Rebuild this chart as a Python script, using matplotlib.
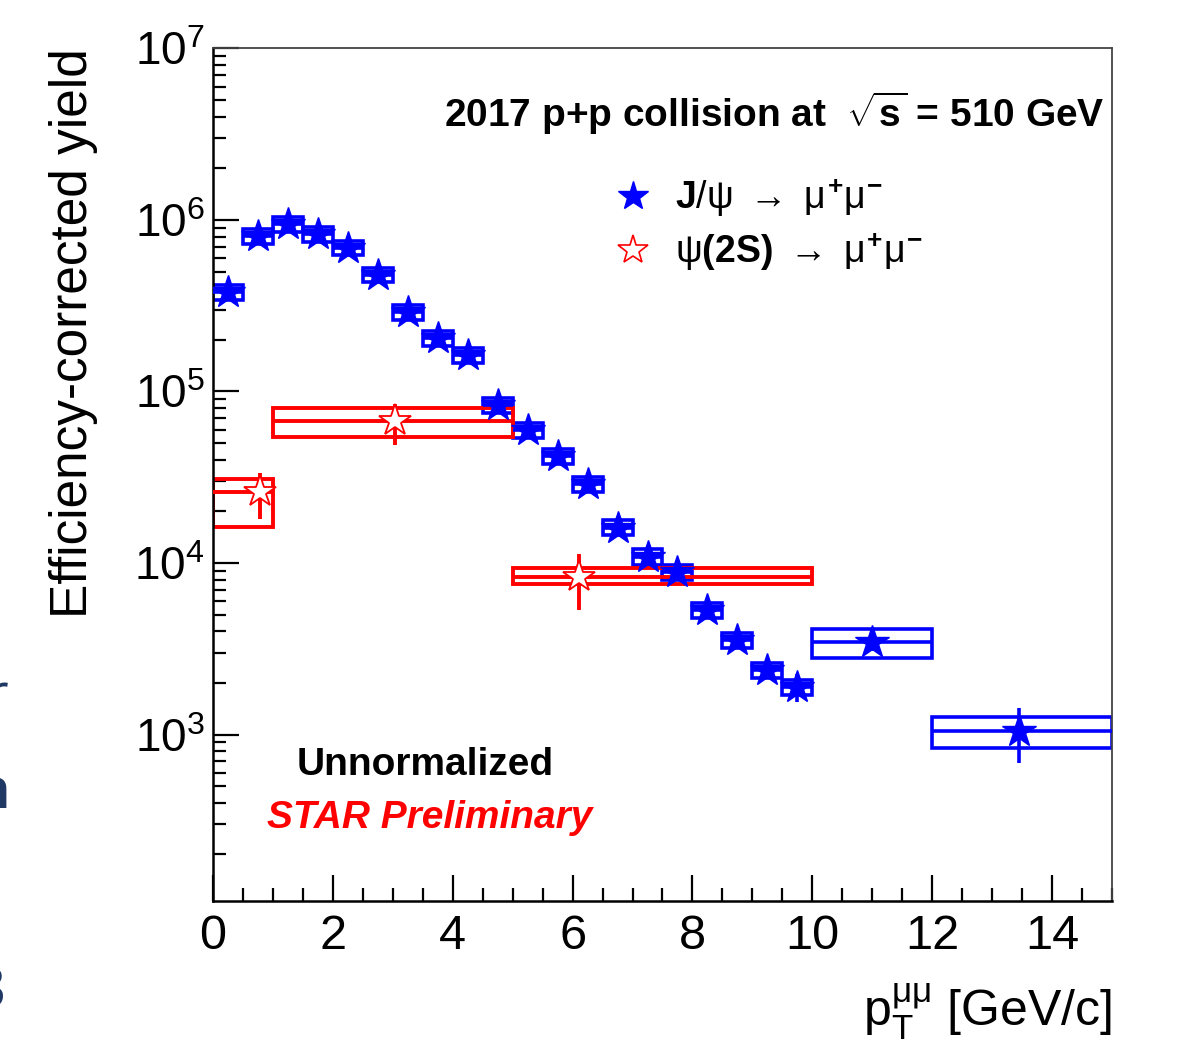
import numpy as np
import matplotlib.pyplot as plt
from matplotlib.patches import Rectangle
from matplotlib.lines import Line2D
from matplotlib.ticker import LogLocator, MultipleLocator, NullFormatter

plt.rcParams['font.family'] = ['Liberation Sans', 'DejaVu Sans']
plt.rcParams['mathtext.fontset'] = 'custom'
plt.rcParams['mathtext.rm'] = 'Liberation Sans'
plt.rcParams['mathtext.it'] = 'Liberation Sans'
plt.rcParams['mathtext.bf'] = 'Liberation Sans:bold'

# J/psi -> mu mu : bins, points, stat and sys errors
jpsi_lo = [0, 0.5, 1, 1.5, 2, 2.5, 3, 3.5, 4, 4.5, 5, 5.5, 6, 6.5, 7, 7.5, 8, 8.5, 9, 9.5, 10, 12]
jpsi_hi = [0.5, 1, 1.5, 2, 2.5, 3, 3.5, 4, 4.5, 5, 5.5, 6, 6.5, 7, 7.5, 8, 8.5, 9, 9.5, 10, 12, 15]
jpsi_x = [0.25, 0.75, 1.25, 1.75, 2.25, 2.75, 3.25, 3.75, 4.25, 4.75, 5.25, 5.75, 6.25, 6.75,
          7.25, 7.75, 8.25, 8.75, 9.25, 9.75, 11.0, 13.45]
jpsi_y = [3.8e5, 8.1e5, 9.5e5, 8.3e5, 6.9e5, 4.8e5, 2.9e5, 2.05e5, 1.63e5, 8.3e4, 5.97e4, 4.18e4,
          2.87e4, 1.61e4, 1.09e4, 8.9e3, 5.3e3, 3.56e3, 2.38e3, 1.9e3, 3.46e3, 1.05e3]
jpsi_stat = [8e3, 1.5e4, 1.6e4, 1.5e4, 1.3e4, 1e4, 7e3, 5e3, 4.5e3, 2.5e3, 2e3, 1.6e3,
             1.2e3, 8e2, 6e2, 6e2, 4e2, 3e2, 2.5e2, 3.5e2, 4e2, 3.7e2]
jpsi_sys = [3.8e4, 8.1e4, 9.5e4, 8.3e4, 6.9e4, 4.8e4, 2.9e4, 2.05e4, 1.63e4, 8.3e3, 6.0e3, 4.2e3,
            2.9e3, 1.6e3, 1.1e3, 8.9e2, 5.3e2, 3.6e2, 2.4e2, 1.9e2, 6.8e2, 2.2e2]

# psi(2S) -> mu mu
psi_lo = [0, 1, 5]
psi_hi = [1, 5, 10]
psi_x = [0.78, 3.03, 6.1]
psi_y = [2.58e4, 6.7e4, 8.3e3]
psi_stat = [7.8e3, 1.8e4, 3.0e3]
psi_sys_lo = [9.6e3, 1.3e4, 7.5e2]
psi_sys_hi = [5.1e3, 1.35e4, 1.0e3]

fig = plt.figure(figsize=(11.91, 10.51), dpi=100)
ax = fig.add_axes([0.1788, 0.1427, 0.7549, 0.8112])
ax.set_yscale('log')

# systematic boxes
for lo, hi, y, s in zip(jpsi_lo, jpsi_hi, jpsi_y, jpsi_sys):
    ax.add_patch(Rectangle((lo, y - s), hi - lo, 2 * s, fill=False, ec='blue', lw=2.6, zorder=2))
for lo, hi, y, sl, sh in zip(psi_lo, psi_hi, psi_y, psi_sys_lo, psi_sys_hi):
    ax.add_patch(Rectangle((lo, y - sl), hi - lo, sl + sh, fill=False, ec='red', lw=2.8, zorder=2))

jx = np.array(jpsi_x)
px = np.array(psi_x)
ax.errorbar(jx, jpsi_y, xerr=[jx - np.array(jpsi_lo), np.array(jpsi_hi) - jx], yerr=jpsi_stat,
            fmt='*', color='blue', ms=25, elinewidth=2.6, capsize=0, zorder=4)
ax.errorbar(px, psi_y, xerr=[px - np.array(psi_lo), np.array(psi_hi) - px], yerr=psi_stat,
            fmt='*', color='red', mfc='white', mec='red', mew=1.3, ms=24, elinewidth=2.8,
            capsize=0, zorder=4)

ax.set_xlim(0, 15)
ax.set_ylim(107, 1e7)

# ROOT-like axes
ax.xaxis.set_major_locator(MultipleLocator(2))
ax.xaxis.set_minor_locator(MultipleLocator(0.5))
ax.yaxis.set_major_locator(LogLocator(base=10, numticks=20))
ax.yaxis.set_minor_locator(LogLocator(base=10, subs=np.arange(2, 10), numticks=100))
ax.yaxis.set_minor_formatter(NullFormatter())
ax.tick_params(which='both', direction='in', top=False, right=False, width=1.6, color='black')
ax.tick_params(which='major', length=19)
ax.tick_params(which='minor', length=9.5)
ax.tick_params(axis='x', labelsize=35, pad=9)
ax.tick_params(axis='y', labelsize=33, pad=6)
for side in ['left', 'bottom']:
    ax.spines[side].set_linewidth(1.8)
for side in ['top', 'right']:
    ax.spines[side].set_linewidth(1.3)
    ax.spines[side].set_color('#444444')

ax.set_ylabel('Efficiency-corrected yield', fontsize=37, loc='top')
ax.yaxis.set_label_coords(-0.128, 1.0)
ax.set_xlabel(r'$\mathrm{p}_{\mathrm{T}}^{\mu\mu}$ [GeV/c]', fontsize=36, loc='right')
ax.xaxis.set_label_coords(1.0, -0.095)

ax.text(0.992, 0.924, r'2017 p+p collision at  $\mathbf{\sqrt{s}}$ = 510 GeV', transform=ax.transAxes,
        ha='right', va='center', fontsize=28, fontweight='bold')

handles = [Line2D([], [], marker='*', ls='none', color='blue', ms=22),
           Line2D([], [], marker='*', ls='none', mfc='white', mec='red', mew=1.2, ms=22)]
labels = [r'$\mathbf{J}/\psi\ \rightarrow\ \mu^{\mathbf{+}}\mu^{\mathbf{-}}$',
          r'$\psi\mathbf{(2S)}\ \rightarrow\ \mu^{\mathbf{+}}\mu^{\mathbf{-}}$']
ax.legend(handles, labels, loc='upper left', bbox_to_anchor=(0.43, 0.868), frameon=False,
          fontsize=27, handletextpad=0.6, labelspacing=0.3, handlelength=1.0, borderaxespad=0)

ax.text(0.236, 0.160, 'Unnormalized', transform=ax.transAxes, ha='center', va='center',
        fontsize=28, fontweight='bold')
ax.text(0.241, 0.097, 'STAR Preliminary', transform=ax.transAxes, ha='center', va='center',
        fontsize=28, fontweight='bold', style='italic', color='red')

# slide text clipped at the left edge (as in the reference)
navy = '#1f3864'
fig.text(-0.012, 0.335, 'r', fontsize=40, color=navy, ha='left', va='center', family='Open Sans')
fig.text(-0.022, 0.245, 'n', fontsize=40, color=navy, ha='left', va='center', family='Open Sans',
         fontweight='bold')
fig.text(-0.024, 0.055, '3', fontsize=42, color=navy, ha='left', va='center', family='Open Sans',
         fontweight='bold')

fig.savefig('out.png', dpi=100)
